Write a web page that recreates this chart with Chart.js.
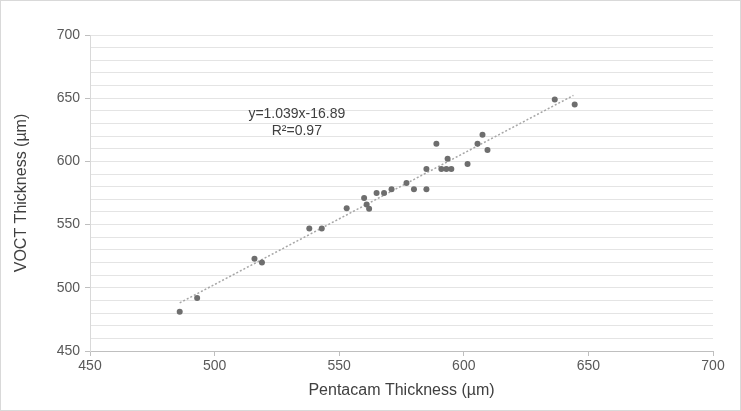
<!DOCTYPE html>
<html>
<head>
<meta charset="utf-8">
<script src="https://cdn.jsdelivr.net/npm/chart.js"></script>
<style>
  html, body { margin: 0; padding: 0; background: #fff; }
  #wrap { width: 741px; height: 411px; box-sizing: border-box; border: 1px solid #d9d9d9; }
  canvas { display: block; }
</style>
</head>
<body>
<div id="wrap"><canvas id="chart" width="739" height="409"></canvas></div>
<script>
// Pentacam vs VOCT central thickness (µm)
const pentacam = [486, 493, 516, 519, 538, 543, 553, 560, 561, 562, 565, 568, 571, 577, 580, 585, 585, 589, 591, 593, 593.5, 595, 601.5, 605.5, 607.5, 609.5, 636.5, 644.5];
const voct     = [481, 492, 523, 520, 547, 547, 563, 571, 566, 562.5, 575, 575, 578, 583, 578, 578, 594, 614, 594, 594, 602, 594, 598, 614, 621, 609, 649, 645];

const slope = 1.039;
const intercept = -16.89;
const fitRange = [486, 644];

const axisMin = 450;
const axisMax = 700;
const xTitle = "Pentacam Thickness (µm)";
const yTitle = "VOCT Thickness (µm)";
const eqLines = ["y=1.039x-16.89", "R²=0.97"];
const eqAnchor = [533, 637];

const points = pentacam.map((x, i) => ({ x, y: voct[i] }));
const fitLine = fitRange.map((x) => ({ x, y: slope * x + intercept }));

const FONT = "'Liberation Sans', Arial, sans-serif";

const eqLabel = {
    id: "eqLabel",
    afterDatasetsDraw(chart) {
        const { ctx, scales } = chart;
        const px = scales.x.getPixelForValue(eqAnchor[0]);
        const py = scales.y.getPixelForValue(eqAnchor[1]);
        ctx.save();
        ctx.font = "14px " + FONT;
        ctx.fillStyle = "#404040";
        ctx.textAlign = "center";
        ctx.textBaseline = "middle";
        eqLines.forEach((t, i) => ctx.fillText(t, px, py + i * 17));
        ctx.restore();
    }
};

new Chart(document.getElementById("chart"), {
    type: "scatter",
    data: {
        datasets: [
            {
                label: "Thickness",
                data: points,
                backgroundColor: "#6e6e6e",
                borderWidth: 0,
                pointRadius: 3,
                pointHoverRadius: 3
            },
            {
                label: "Linear fit",
                type: "line",
                data: fitLine,
                borderColor: "#a6a6a6",
                borderWidth: 1.5,
                borderDash: [2, 2],
                pointRadius: 0,
                fill: false
            }
        ]
    },
    options: {
        responsive: false,
        animation: false,
        layout: { padding: { top: 34, right: 27, left: 0, bottom: 0 } },
        plugins: {
            legend: { display: false },
            tooltip: { enabled: false }
        },
        scales: {
            x: {
                type: "linear",
                min: axisMin,
                max: axisMax,
                afterFit: (s) => { s.height = 59; },
                ticks: {
                    stepSize: 50,
                    color: "#595959",
                    font: { family: FONT, size: 14 },
                    padding: 2,
                    maxRotation: 0
                },
                grid: {
                    drawOnChartArea: false,
                    tickLength: 5,
                    tickColor: "#bfbfbf"
                },
                border: { color: "#bfbfbf" },
                title: {
                    display: true,
                    text: xTitle,
                    color: "#404040",
                    font: { family: FONT, size: 16 },
                    padding: { top: 0, bottom: 10 }
                }
            },
            y: {
                type: "linear",
                min: axisMin,
                max: axisMax,
                afterFit: (s) => { s.width = 89; },
                ticks: {
                    stepSize: 10,
                    autoSkip: false,
                    color: "#595959",
                    font: { family: FONT, size: 14 },
                    padding: 5,
                    callback: (v) => (v % 50 === 0 ? String(v) : "")
                },
                grid: {
                    color: "#e4e4e4",
                    lineWidth: 1,
                    tickLength: 5,
                    tickColor: (c) => (c.tick && c.tick.value % 50 === 0 ? "#bfbfbf" : "rgba(0,0,0,0)")
                },
                border: { color: "#d9d9d9" },
                title: {
                    display: true,
                    text: yTitle,
                    color: "#404040",
                    font: { family: FONT, size: 16 },
                    padding: { top: 11, bottom: 0 }
                }
            }
        }
    },
    plugins: [eqLabel]
});
</script>
</body>
</html>
